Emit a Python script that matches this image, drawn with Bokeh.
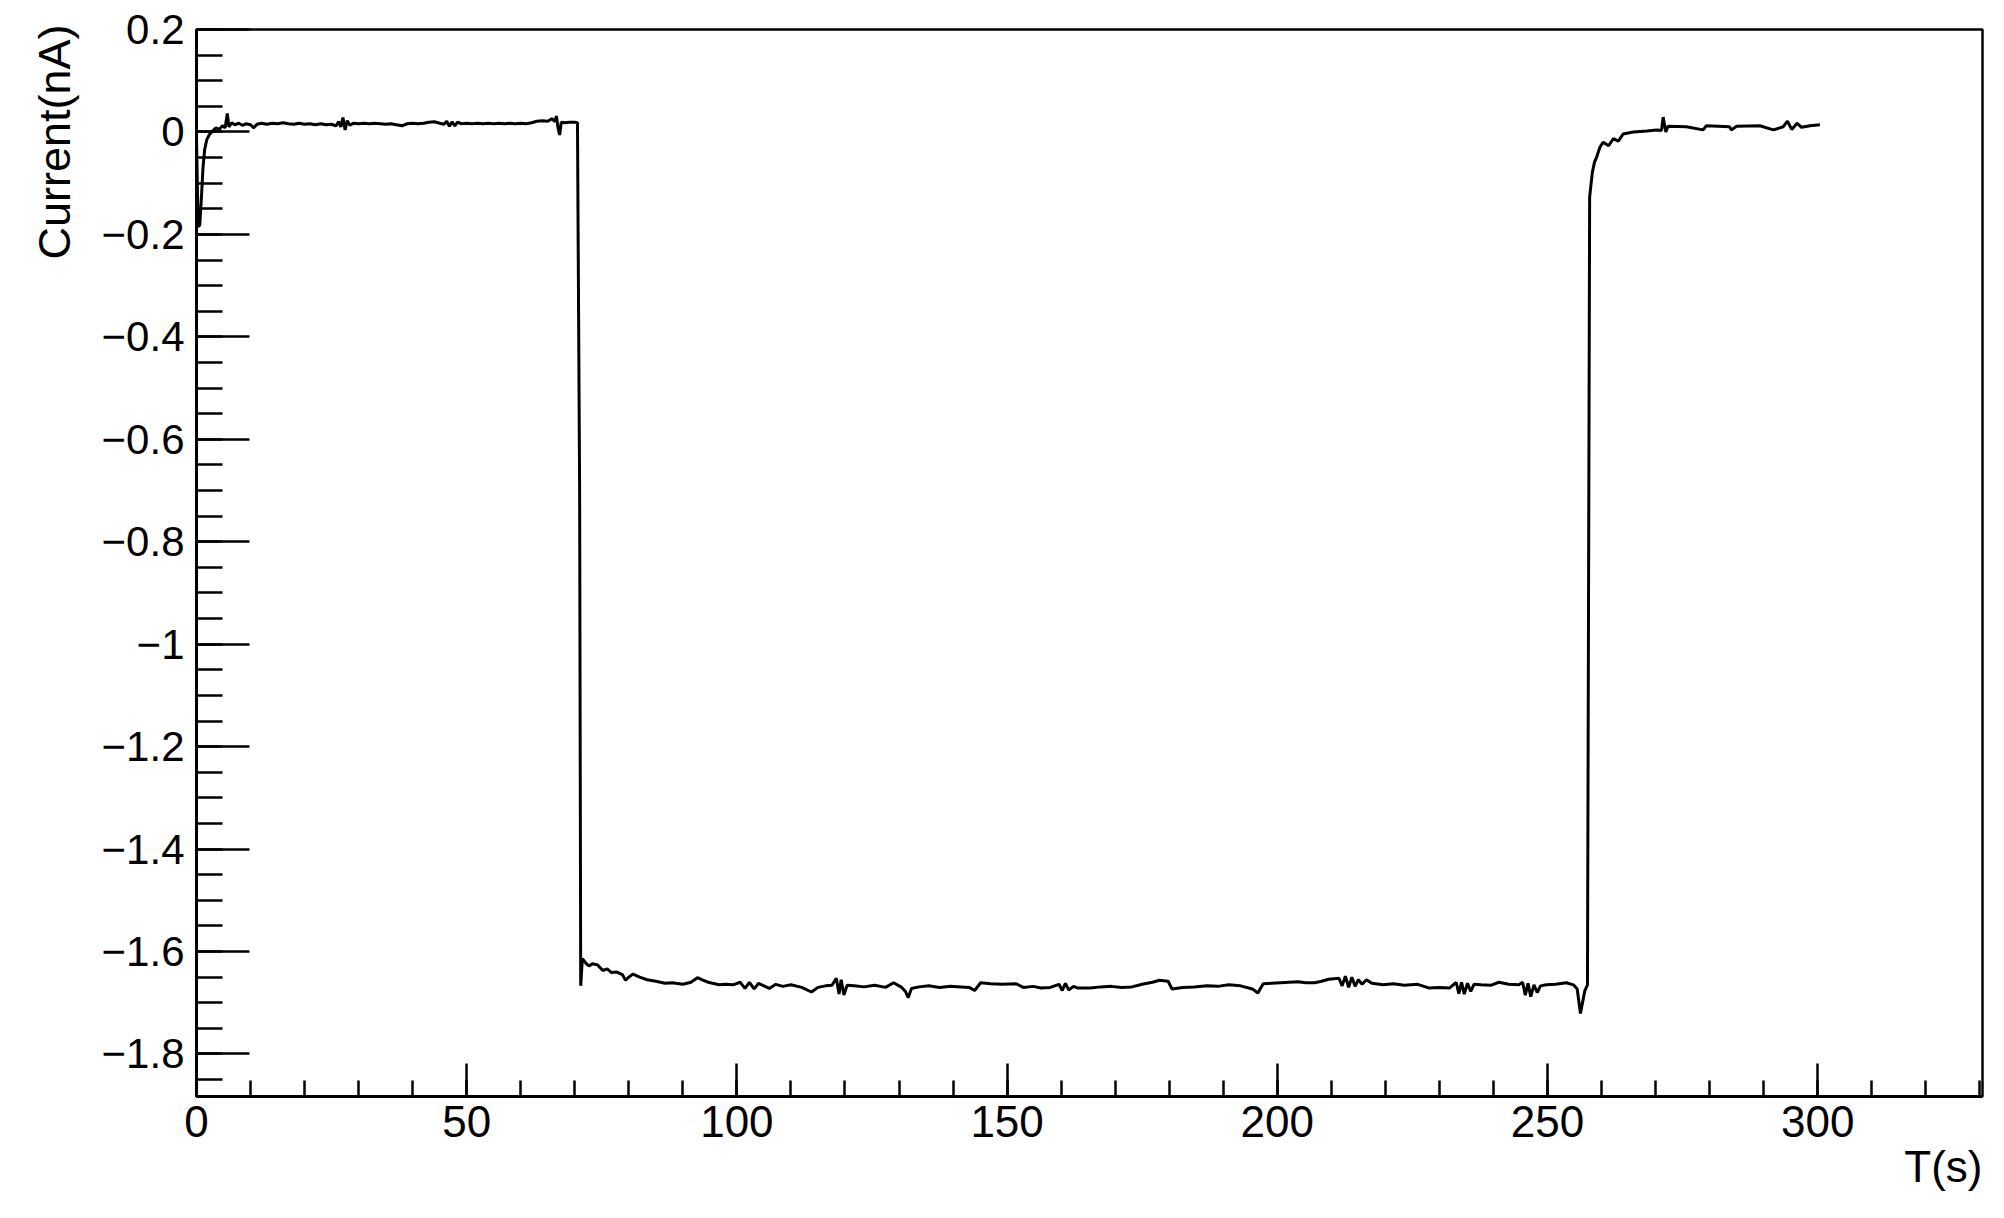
import numpy as np
from bokeh.plotting import figure
from bokeh.models import Range1d, FixedTicker, CustomJSTickFormatter, Title
from bokeh.embed import file_html
from bokeh.resources import INLINE

# ---- data: time (s) and current (nA) ----
time_s = [
    0.0, 0.3, 0.6, 0.9, 1.2, 1.5, 1.9, 2.4, 3.0, 3.6, 4.2, 4.8, 5.3, 5.7, 6.0, 6.5,
    7.1, 7.8, 8.5, 9.2, 10.0, 10.6, 11.2, 12.0, 13.0, 14.0, 15.0, 16.0, 17.0, 18.0,
    19.0, 20.0, 21.0, 22.0, 23.0, 24.0, 25.0, 25.8, 26.3, 26.7, 27.1, 27.5, 27.9,
    28.4, 29.0, 30.0, 31.0, 32.0, 33.0, 34.0, 35.0, 36.0, 37.0, 38.0, 39.0, 40.0,
    41.0, 42.0, 43.0, 44.0, 45.0, 45.8, 46.3, 46.8, 47.3, 47.8, 48.3, 49.0, 50.0,
    51.0, 52.0, 53.0, 54.0, 55.0, 56.0, 57.0, 58.0, 59.0, 60.0, 61.0, 62.0, 63.0,
    64.0, 65.0, 65.8, 66.3, 66.6, 66.9, 67.2, 67.5, 68.2, 69.0, 70.0, 70.5, 70.9,
    71.1, 71.4, 72.0, 72.6, 73.3, 74.2, 75.2, 76.0, 76.8, 77.8, 78.8, 79.4, 80.0,
    80.8, 82.0, 83.4, 85.0, 86.7, 88.0, 90.0, 91.5, 92.7, 93.7, 94.7, 96.7, 98.0,
    99.3, 100.6, 101.5, 102.3, 103.2, 104.0, 105.0, 106.0, 107.2, 108.5, 110.0,
    112.0, 113.8, 115.0, 116.4, 117.6, 118.4, 118.9, 119.3, 119.8, 120.4, 121.7,
    123.5, 125.5, 127.5, 129.0, 130.5, 131.2, 131.7, 132.3, 133.7, 135.5, 137.5,
    139.5, 141.5, 143.0, 144.0, 145.1, 147.0, 149.0, 151.7, 153.0, 154.8, 156.3,
    158.0, 159.6, 160.2, 160.8, 161.4, 162.3, 163.0, 165.4, 167.3, 169.3, 171.2,
    173.1, 175.0, 176.9, 178.2, 179.8, 180.5, 182.5, 184.6, 187.0, 189.0, 191.0,
    193.2, 195.4, 196.4, 197.4, 199.0, 200.6, 202.2, 203.8, 205.3, 206.9, 208.2,
    209.5, 211.4, 212.0, 212.6, 213.2, 213.8, 214.4, 215.0, 215.7, 216.5, 217.5,
    219.6, 221.5, 223.5, 226.0, 228.0, 230.0, 231.9, 233.1, 233.6, 234.1, 234.6,
    235.2, 235.8, 236.4, 237.7, 239.5, 241.0, 242.8, 244.7, 245.4, 245.9, 246.4,
    246.9, 247.5, 248.1, 248.7, 249.8, 251.5, 253.5, 254.8, 255.5, 256.1, 256.9,
    257.4, 257.8, 258.3, 258.7, 259.1, 259.7, 260.3, 261.3, 262.2, 263.1, 264.0,
    265.9, 268.4, 270.2, 271.1, 271.4, 271.9, 272.3, 275.7, 278.8, 279.4, 283.7,
    284.0, 285.0, 289.3, 291.8, 293.6, 294.4, 295.2, 296.2, 297.0, 298.6, 300.4,
]
current_na = [
    -0.010, -0.185, -0.182, -0.130, -0.070, -0.035, -0.015, -0.005, 0.002, 0.008,
    0.005, 0.012, 0.008, 0.036, 0.010, 0.018, 0.014, 0.017, 0.013, 0.016, 0.014,
    0.008, 0.015, 0.017, 0.015, 0.017, 0.016, 0.018, 0.016, 0.015, 0.017, 0.015,
    0.016, 0.014, 0.016, 0.014, 0.015, 0.012, 0.020, 0.010, 0.028, 0.004, 0.022,
    0.013, 0.017, 0.016, 0.017, 0.016, 0.017, 0.016, 0.015, 0.016, 0.014, 0.012,
    0.016, 0.017, 0.016, 0.017, 0.019, 0.020, 0.017, 0.015, 0.021, 0.011, 0.020,
    0.012, 0.019, 0.016, 0.017, 0.016, 0.017, 0.016, 0.017, 0.016, 0.017, 0.016,
    0.017, 0.016, 0.017, 0.016, 0.018, 0.021, 0.022, 0.021, 0.026, 0.020, 0.031,
    0.008, -0.006, 0.019, 0.018, 0.019, 0.019, 0.018, -0.703,
    -1.667, -1.614, -1.622, -1.628, -1.624, -1.626, -1.637, -1.634, -1.641, -1.640,
    -1.645, -1.656, -1.650, -1.644, -1.650, -1.655, -1.658, -1.662, -1.661, -1.664,
    -1.660, -1.651, -1.656, -1.660, -1.665, -1.664, -1.665, -1.660, -1.672, -1.660,
    -1.673, -1.662, -1.667, -1.672, -1.664, -1.668, -1.665, -1.670, -1.679, -1.670,
    -1.667, -1.666, -1.652, -1.683, -1.655, -1.685, -1.666, -1.667, -1.669, -1.666,
    -1.670, -1.661, -1.670, -1.678, -1.690, -1.672, -1.669, -1.667, -1.670, -1.668,
    -1.669, -1.670, -1.676, -1.661, -1.663, -1.664, -1.663, -1.670, -1.668, -1.671,
    -1.670, -1.664, -1.676, -1.662, -1.675, -1.668, -1.671, -1.671, -1.669, -1.668,
    -1.670, -1.669, -1.664, -1.660, -1.656, -1.658, -1.673, -1.670, -1.669, -1.667,
    -1.668, -1.665, -1.667, -1.673, -1.681, -1.663, -1.662, -1.661, -1.660, -1.659,
    -1.661, -1.661, -1.658, -1.654, -1.652, -1.667, -1.648, -1.670, -1.650, -1.668,
    -1.655, -1.664, -1.655, -1.662, -1.665, -1.663, -1.666, -1.664, -1.671, -1.670,
    -1.671, -1.660, -1.682, -1.660, -1.683, -1.662, -1.678, -1.664, -1.665, -1.666,
    -1.660, -1.664, -1.665, -1.660, -1.685, -1.662, -1.688, -1.665, -1.680, -1.667,
    -1.665, -1.664, -1.661, -1.665, -1.673, -1.721, -1.677, -1.665,
    -0.127, -0.079, -0.059, -0.049, -0.030, -0.020, -0.027, -0.013, -0.018, -0.004,
    0.000, 0.002, 0.004, 0.003, 0.029, 0.000, 0.011, 0.010, 0.004, 0.012, 0.010,
    0.004, 0.011, 0.012, 0.004, 0.010, 0.021, 0.005, 0.017, 0.009, 0.012, 0.014,
]

x_major_ticks = [0, 50, 100, 150, 200, 250, 300]
y_major_ticks = [-1.8, -1.6, -1.4, -1.2, -1.0, -0.8, -0.6, -0.4, -0.2, 0.0, 0.2]
x_label = "T(s)"
y_label = "Current(nA)"

FONT = "Liberation Sans"

p = figure(width=1996, height=1210, output_backend="svg", toolbar_location=None,
           x_range=Range1d(0, 330.5), y_range=Range1d(-1.883, 0.2),
           min_border_left=196, min_border_right=14, min_border_top=29,
           min_border_bottom=114)
p.background_fill_color = "white"
p.border_fill_color = "white"
p.outline_line_color = "black"
p.outline_line_width = 2.5
p.xgrid.visible = False
p.ygrid.visible = False

p.line(time_s, current_na, line_color="black", line_width=3)

x_minor = [float(v) for v in np.arange(0, 331, 10)]
y_minor = [round(float(v), 3) for v in np.arange(-1.85, 0.2001, 0.05)]
p.xaxis.ticker = FixedTicker(ticks=x_major_ticks, minor_ticks=x_minor)
p.yaxis.ticker = FixedTicker(ticks=y_major_ticks, minor_ticks=y_minor)
p.yaxis.formatter = CustomJSTickFormatter(code="""
    let s = Math.abs(tick) < 1e-9 ? "0" : tick.toFixed(1).replace(/\\.0$/, "");
    return s.replace("-", "\u2212");
""")

for ax in (p.xaxis[0], p.yaxis[0]):
    ax.axis_line_width = 3
    ax.axis_line_color = "black"
    ax.major_tick_line_width = 2.5
    ax.minor_tick_line_width = 2.5
    ax.major_tick_out = 0
    ax.minor_tick_out = 0
    ax.major_label_text_font = FONT
    ax.major_label_text_color = "black"

p.yaxis.major_label_text_font_size = "42px"
p.xaxis.major_label_text_font_size = "44px"
p.yaxis.major_tick_in = 53
p.yaxis.minor_tick_in = 26
p.yaxis.major_label_standoff = 12
p.xaxis.major_tick_in = 33
p.xaxis.minor_tick_in = 16
p.xaxis.major_label_standoff = 9

p.add_layout(Title(text=x_label, align="right", text_font=FONT,
                   text_font_size="44px", text_font_style="normal",
                   text_color="black", standoff=0, offset=0), "below")
p.add_layout(Title(text=y_label, align="right", text_font=FONT,
                   text_font_size="45px", text_font_style="normal",
                   text_color="black", standoff=38, offset=-5), "left")

open("out.html", "w").write(file_html(p, INLINE))
